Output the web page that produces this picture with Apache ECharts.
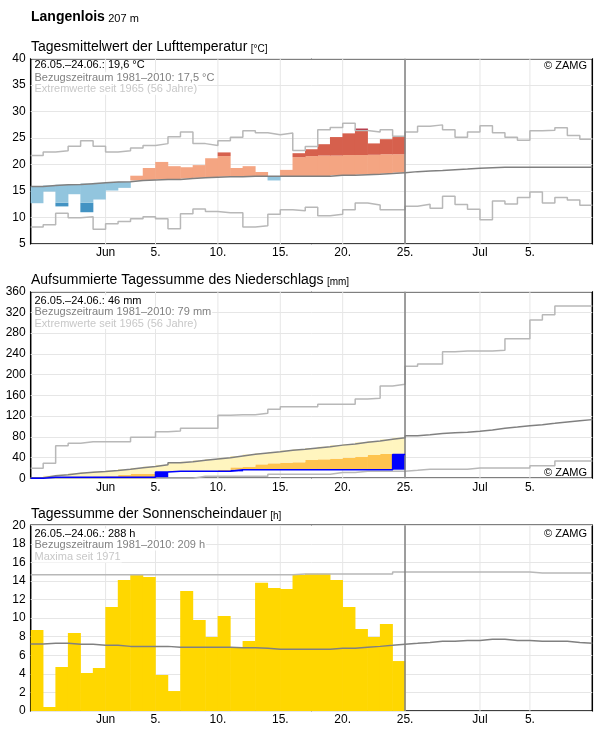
<!DOCTYPE html>
<html>
<head>
<meta charset="utf-8">
<title>Langenlois</title>
<script src="https://cdn.jsdelivr.net/npm/echarts@6.0.0/dist/echarts.min.js"></script>
<style>
  html, body { margin: 0; padding: 0; background: #fff; }
  #chart { width: 596px; height: 729px; }
</style>
</head>
<body>
<div id="chart"></div>
<script>
// Tage ab 26.05. (Index 0) bis 09.07. (Index 44)
const dayLabels = [
  '26.05.', '27.05.', '28.05.', '29.05.', '30.05.', '31.05.',
  '01.06.', '02.06.', '03.06.', '04.06.', '05.06.', '06.06.', '07.06.', '08.06.', '09.06.', '10.06.',
  '11.06.', '12.06.', '13.06.', '14.06.', '15.06.', '16.06.', '17.06.', '18.06.', '19.06.', '20.06.',
  '21.06.', '22.06.', '23.06.', '24.06.', '25.06.', '26.06.', '27.06.', '28.06.', '29.06.', '30.06.',
  '01.07.', '02.07.', '03.07.', '04.07.', '05.07.', '06.07.', '07.07.', '08.07.', '09.07.'
]
const xTickValues = [6, 10, 15, 20, 25, 30, 36, 40]
const xTickLabels = ['Jun', '5.', '10.', '15.', '20.', '25.', 'Jul', '5.']
const todayIndex = 30

// Lufttemperatur (°C)
const tempActual = [12.7, 14.9, 12.1, 14.4, 11.0, 13.4, 15.1, 15.6, 17.9, 19.35,
  20.5, 19.7, 19.5, 19.9, 21.2, 22.3, 19.35, 19.7, 18.6, 17.0,
  19.0, 22.15, 22.9, 23.85, 25.2, 25.9, 26.8, 24.0, 24.8, 25.2]
const tempNormal = [15.87, 16.05, 16.2, 16.25, 16.4, 16.55, 16.7, 16.75, 17.0, 17.1,
  17.2, 17.2, 17.35, 17.5, 17.6, 17.7, 17.7, 17.8, 17.8, 17.8,
  17.8, 17.8, 17.8, 17.8, 17.98, 17.98, 18.1, 18.17, 18.3, 18.48,
  18.67, 18.8, 18.9, 19.04, 19.15, 19.3, 19.4, 19.48, 19.48, 19.48,
  19.48, 19.48, 19.48, 19.48, 19.48]
const tempUpper = [19.8, 19.9, 20.1, 20.2, 20.3, 20.4, 20.6, 20.7, 20.9, 21.0,
  21.1, 21.2, 21.3, 21.4, 21.5, 21.6, 21.6, 21.6, 21.6, 21.6,
  21.6, 21.4, 21.6, 21.7, 21.7, 21.8, 21.8, 21.85, 21.95, 21.95]
const tempLower = [12.4, 12.6, 12.8, 12.8, 12.8, 13.0, 13.2, 13.3, 13.5, 13.6,
  13.7, 13.7, 13.9, 14.0, 14.1, 14.2, 14.2, 14.3, 14.3, 14.3,
  14.3, 14.3, 14.3, 14.3, 14.5, 14.5, 14.6, 14.7, 14.8, 15.0]
const tempMax = [21.72, 22.4, 22.6, 23.46, 24.52, 23.46, 22.4, 22.6, 23.15, 23.6,
  23.96, 25.27, 26.14, 23.96, 23.6, 24.5, 25.14, 26.4, 26.0, 25.64,
  25.95, 22.65, 23.4, 26.58, 27.0, 27.8, 26.45, 26.14, 26.58, 25.33,
  26.14, 27.26, 27.5, 26.58, 25.14, 26.14, 27.32, 26.0, 25.14, 24.58,
  26.4, 26.5, 26.95, 25.5, 24.77]
const tempMin = [8.2, 8.64, 10.82, 9.95, 10.14, 7.77, 8.83, 9.27, 9.76, 10.14,
  9.76, 7.9, 10.7, 11.63, 11.13, 10.88, 10.88, 8.2, 8.46, 10.64,
  11.45, 11.3, 11.94, 10.32, 10.64, 11.45, 12.75, 12.38, 11.45, 11.45,
  12.13, 12.5, 11.76, 14.0, 12.44, 11.57, 9.58, 13.13, 12.57, 13.8,
  14.8, 12.75, 13.8, 13.3, 12.3]

// Niederschlag, aufsummiert (mm)
const precipActual = [0.3, 1.8, 1.8, 1.8, 1.8, 1.8, 1.8, 1.8, 1.8, 1.8,
  12.2, 13.4, 13.4, 13.4, 13.4, 13.4, 16.6, 16.6, 16.6, 16.6,
  16.6, 16.6, 16.6, 16.6, 16.6, 16.6, 16.6, 16.6, 16.6, 46]
const precipNormal = [1.3, 5, 7, 9.6, 11.6, 13.2, 15.1, 17.6, 20.2, 22.8,
  26, 30.2, 32.1, 34.7, 37.3, 39.5, 43, 46.2, 48.6, 51,
  54, 56, 58.5, 61, 64, 66.2, 69.5, 72, 75.2, 78.4,
  82.3, 84.2, 86.2, 88, 88.7, 90.7, 93.2, 96.5, 99, 101.6,
  103.5, 106, 108.7, 111.2, 113.2]
const precipLower = [0, 0.5, 1, 1.5, 1.8, 3.5, 4, 6.3, 8.9, 8.9,
  10, 11, 12, 12.8, 13.2, 16, 21.1, 22.4, 26.9, 28.9,
  30.2, 30.9, 35.3, 36.6, 37.9, 39.8, 41.7, 45, 46.9, 47.5]
const precipMax = [19.3, 29, 63, 67.5, 70.7, 70.7, 70.7, 70.7, 79, 79,
  90, 91.3, 96.5, 96.5, 96.5, 121.5, 122.8, 122.8, 125.4, 133,
  138.2, 138.2, 138.2, 142.7, 142.7, 142.7, 153, 154.3, 178, 181.3,
  216, 220.5, 220.5, 244, 245.6, 245.6, 245.6, 247, 269.4, 269.4,
  305.4, 315.7, 332.4, 332.4, 332.4]
const precipMin = [0, 0, 0, 0, 0, 0, 0, 0, 0, 0,
  0, 0, 0, 3.8, 3.8, 3.8, 3.8, 3.8, 3.8, 7.7,
  7.7, 7.7, 7.7, 7.7, 11.2, 11.2, 13.8, 13.8, 13.8, 13.8,
  15.4, 17.3, 17.3, 17.3, 17.3, 19.9, 19.9, 19.9, 19.9, 19.9,
  24.4, 24.4, 33.4, 33.4, 33.4]

// Sonnenscheindauer (h)
const sunActual = [8.72, 0.43, 4.74, 8.4, 4.09, 4.63, 11.2, 14.1, 14.64, 14.43,
  3.88, 2.15, 12.92, 9.8, 7.97, 10.23, 6.9, 7.54, 13.8, 13.25,
  13.14, 14.64, 14.78, 14.78, 14.1, 11.2, 8.83, 7.97, 9.37, 5.38]
const sunNormal = [7.21, 7.29, 7.29, 7.18, 7.18, 7.07, 7.07, 6.96, 6.96, 6.96,
  6.96, 6.86, 6.86, 6.86, 6.86, 6.86, 6.82, 6.82, 6.75, 6.64,
  6.64, 6.64, 6.64, 6.64, 6.75, 6.75, 6.86, 6.96, 7.07, 7.2,
  7.29, 7.39, 7.5, 7.5, 7.6, 7.6, 7.72, 7.72, 7.6, 7.6,
  7.5, 7.5, 7.5, 7.39, 7.29]
const sunMax = [14.68, 14.68, 14.68, 14.68, 14.68, 14.68, 14.68, 14.68, 14.68, 14.68,
  14.68, 14.68, 14.68, 14.68, 14.68, 14.68, 14.68, 14.68, 14.68, 14.68,
  14.68, 14.75, 14.75, 14.75, 14.75, 14.75, 14.75, 14.75, 14.75, 14.97,
  14.97, 14.97, 14.97, 14.97, 14.97, 14.97, 14.97, 14.97, 14.97, 14.97,
  14.86, 14.86, 14.86, 14.86, 14.86]

const FONT = '"Liberation Sans", Arial, sans-serif'
const GRID_LINE = '#e6e6e6'
const NORMAL_LINE = '#808080'
const EXTREME_LINE = '#b8b8b8'

const yRanges = [[5, 40, 5], [0, 360, 40], [0, 20, 2]]

const chart = echarts.init(document.getElementById('chart'))

// Treppenlinie: jeder Tag als Stufe, letzter Wert bis zum Tagesende
function stepPoints(arr) {
  const pts = arr.map((v, i) => [i, v])
  pts.push([arr.length, arr[arr.length - 1]])
  return pts
}

function stepLine(values, gridIdx, color, width, extra) {
  return Object.assign({
    type: 'line',
    xAxisIndex: gridIdx * 2,
    yAxisIndex: gridIdx,
    data: stepPoints(values),
    step: 'end',
    symbol: 'none',
    silent: true,
    z: 4,
    lineStyle: { color: color, width: width }
  }, extra || {})
}

function barPart(values, gridIdx, color, stack) {
  return {
    type: 'bar',
    xAxisIndex: gridIdx * 2 + 1,
    yAxisIndex: gridIdx,
    stack: stack,
    data: values,
    barWidth: 13,
    silent: true,
    z: 2,
    itemStyle: { color: color }
  }
}

// senkrechte Gitterlinien an den beschrifteten Tagen (unter den Balken)
function vGrid(gridIdx) {
  const r = yRanges[gridIdx]
  const pts = []
  xTickValues.forEach(v => { pts.push([v, r[0]], [v, r[1]], [v, '-']) })
  return {
    type: 'line',
    xAxisIndex: gridIdx * 2,
    yAxisIndex: gridIdx,
    data: pts,
    symbol: 'none',
    silent: true,
    connectNulls: false,
    z: 1,
    lineStyle: { color: GRID_LINE, width: 1 }
  }
}

const todayLine = {
  markLine: {
    silent: true,
    symbol: 'none',
    label: { show: false },
    lineStyle: { color: NORMAL_LINE, width: 1.5, type: 'solid' },
    data: [{ xAxis: todayIndex }]
  }
}

// Temperatur: Abweichung vom Normalwert in Stufen
const tBase = [], tDeepBlue = [], tBlue = [], tOrange = [], tRed = [], tDarkRed = []
tempActual.forEach((a, i) => {
  const m = tempNormal[i]
  if (a >= m) {
    tBase.push(m); tDeepBlue.push(0); tBlue.push(0)
    tOrange.push(Math.min(a, tempUpper[i]) - m)
    tRed.push(Math.max(0, Math.min(a, tempMax[i]) - tempUpper[i]))
    tDarkRed.push(Math.max(0, a - tempMax[i]))
  } else {
    tBase.push(a)
    tDeepBlue.push(Math.max(0, tempLower[i] - a))
    tBlue.push(m - Math.max(a, tempLower[i]))
    tOrange.push(0); tRed.push(0); tDarkRed.push(0)
  }
})

// Niederschlag: Tageszuwachs, Defizit zum Normalwert
const pBase = [], pDaily = [], pOrange = [], pYellow = []
precipActual.forEach((a, i) => {
  const prev = i > 0 ? precipActual[i - 1] : 0
  pBase.push(prev)
  pDaily.push(a - prev)
  pOrange.push(Math.max(0, precipLower[i] - a))
  pYellow.push(Math.max(0, precipNormal[i] - Math.max(a, precipLower[i])))
})

const grids = [
  { left: 30.7, top: 58.7, width: 561.6, height: 185.3 },
  { left: 30.7, top: 291.7, width: 561.6, height: 186.6 },
  { left: 30.7, top: 525.3, width: 561.6, height: 185.7 }
].map(g => Object.assign(g, { show: true, borderColor: '#000', borderWidth: 1.5, backgroundColor: '#fff' }))

const xAxes = []
grids.forEach((g, gi) => {
  xAxes.push({
    type: 'value', gridIndex: gi, min: 0, max: 45,
    axisLine: { show: false },
    axisTick: { show: false, customValues: xTickValues },
    axisLabel: {
      customValues: xTickValues,
      formatter: v => xTickLabels[xTickValues.indexOf(v)],
      color: '#000', fontSize: 12, fontFamily: FONT, margin: 3
    },
    splitLine: { show: false }
  })
  xAxes.push({
    type: 'category', gridIndex: gi, data: dayLabels, show: false, boundaryGap: true
  })
})

function yAxis(gi) {
  const r = yRanges[gi]
  return {
    type: 'value', gridIndex: gi, min: r[0], max: r[1], interval: r[2],
    axisLine: { show: false },
    axisTick: { show: false },
    axisLabel: { color: '#000', fontSize: 12, fontFamily: FONT, margin: 5 },
    splitLine: { lineStyle: { color: GRID_LINE, width: 1 } }
  }
}

const series = [
  vGrid(0), vGrid(1), vGrid(2),

  barPart(tBase, 0, 'rgba(0,0,0,0)', 'temp'),
  barPart(tDeepBlue, 0, '#4393c3', 'temp'),
  barPart(tBlue, 0, '#92c5de', 'temp'),
  barPart(tOrange, 0, '#f4a582', 'temp'),
  barPart(tRed, 0, '#d6604d', 'temp'),
  barPart(tDarkRed, 0, '#b2182b', 'temp'),
  stepLine(tempMax, 0, EXTREME_LINE, 1.5),
  stepLine(tempMin, 0, EXTREME_LINE, 1.5),
  stepLine(tempNormal, 0, NORMAL_LINE, 1.5, todayLine),

  barPart(pBase, 1, 'rgba(0,0,0,0)', 'rain'),
  barPart(pDaily, 1, '#0000ff', 'rain'),
  barPart(pOrange, 1, '#fec44f', 'rain'),
  barPart(pYellow, 1, '#fff5bf', 'rain'),
  stepLine(precipMax, 1, EXTREME_LINE, 1.5),
  stepLine(precipMin, 1, EXTREME_LINE, 1.5),
  stepLine(precipNormal, 1, NORMAL_LINE, 1.5, todayLine),
  stepLine(precipActual, 1, '#0000ff', 1.5, { z: 5 }),

  barPart(sunActual, 2, '#ffd700', 'sun'),
  stepLine(sunMax, 2, EXTREME_LINE, 1.5),
  stepLine(sunNormal, 2, NORMAL_LINE, 1.5, todayLine)
]

function noteText(x, y, text, color, bg) {
  return {
    type: 'text', x: x, y: y, z: 100, silent: true,
    style: {
      text: text, fill: color, font: '11px ' + FONT,
      verticalAlign: 'middle', align: 'left',
      backgroundColor: bg ? '#fff' : 'transparent', padding: [0, 1]
    }
  }
}
function zamgText(y) {
  return {
    type: 'text', x: 587, y: y, z: 100, silent: true,
    style: { text: '© ZAMG', fill: '#000', font: '11px ' + FONT, verticalAlign: 'middle', align: 'right' }
  }
}
function titleText(y, main, unit) {
  return {
    type: 'text', x: 31, y: y, z: 100, silent: true,
    style: {
      text: '{a|' + main + '} {b|' + unit + '}',
      verticalAlign: 'bottom', align: 'left',
      rich: {
        a: { fontSize: 14, fontFamily: FONT, color: '#000', lineHeight: 14, verticalAlign: 'bottom' },
        b: { fontSize: 10, fontFamily: FONT, color: '#000', lineHeight: 10, verticalAlign: 'bottom' }
      }
    }
  }
}

const graphics = [
  {
    type: 'text', x: 31, y: 24.4, z: 100, silent: true,
    style: {
      text: '{a|Langenlois} {b|207 m}',
      verticalAlign: 'bottom', align: 'left',
      rich: {
        a: { fontSize: 14, fontWeight: 'bold', fontFamily: FONT, color: '#000', lineHeight: 14, verticalAlign: 'bottom' },
        b: { fontSize: 11, fontFamily: FONT, color: '#000', lineHeight: 11, verticalAlign: 'bottom' }
      }
    }
  },
  titleText(54, 'Tagesmittelwert der Lufttemperatur', '[°C]'),
  titleText(287.5, 'Aufsummierte Tagessumme des Niederschlags', '[mm]'),
  titleText(521, 'Tagessumme der Sonnenscheindauer', '[h]'),

  noteText(33.5, 64.5, '26.05.–24.06.: 19,6 °C', '#000', false),
  noteText(33.5, 77.7, 'Bezugszeitraum 1981–2010: 17,5 °C', '#808080', true),
  noteText(33.5, 89.3, 'Extremwerte seit 1965 (56 Jahre)', '#c8c8c8', true),
  zamgText(65.5),

  noteText(33.5, 300.8, '26.05.–24.06.: 46 mm', '#000', true),
  noteText(33.5, 312.2, 'Bezugszeitraum 1981–2010: 79 mm', '#808080', true),
  noteText(33.5, 323.5, 'Extremwerte seit 1965 (56 Jahre)', '#c8c8c8', true),
  zamgText(472.5),

  noteText(33.5, 534.1, '26.05.–24.06.: 288 h', '#000', true),
  noteText(33.5, 544.9, 'Bezugszeitraum 1981–2010: 209 h', '#808080', true),
  noteText(33.5, 556.9, 'Maxima seit 1971', '#c8c8c8', true),
  zamgText(533.5)
]

chart.setOption({
  animation: false,
  backgroundColor: '#fff',
  textStyle: { fontFamily: FONT },
  grid: grids,
  xAxis: xAxes,
  yAxis: [yAxis(0), yAxis(1), yAxis(2)],
  series: series,
  graphic: graphics
})

window.addEventListener('resize', () => chart.resize())
</script>
</body>
</html>
